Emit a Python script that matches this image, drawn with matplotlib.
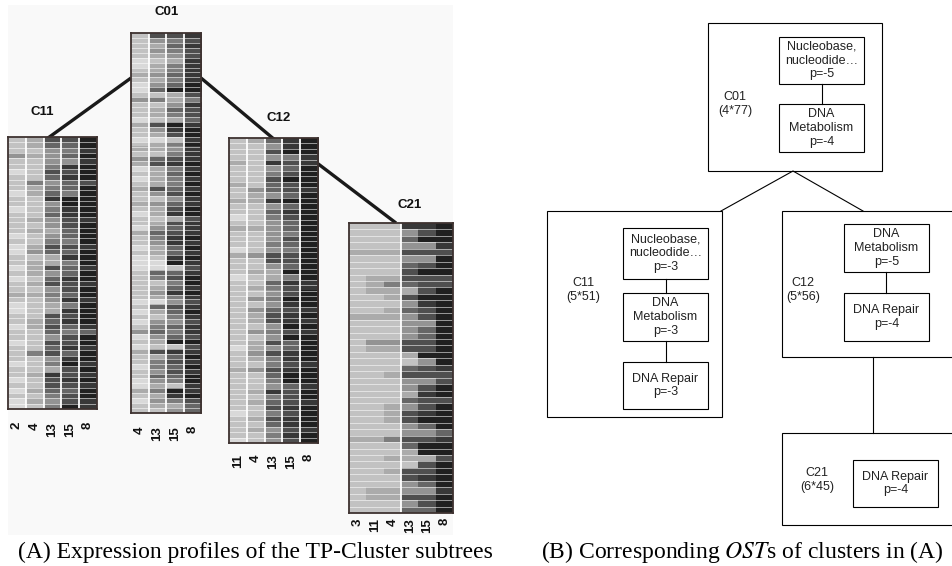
import numpy as np
import matplotlib
matplotlib.use("Agg")
import matplotlib.pyplot as plt
from matplotlib.patches import Rectangle

plt.rcParams['font.family'] = ['Liberation Sans', 'DejaVu Sans']
plt.rcParams['mathtext.fontset'] = 'stix'

# gray level of each cell, 1 = darkest, 9 = lightest (one string per gene)
c01_rows = ["8332", "8653", "8742", "8653", "8763", "9872", "9752", "8752", "7642", "8752",
            "9641", "9411", "8873", "6575", "8862", "8743", "8753", "9874", "7312", "8621",
            "8731", "9982", "8751", "7762", "8852", "6432", "7321", "9752", "8741", "9752",
            "8751", "7342", "8631", "8862", "7642", "8731", "9721", "8873", "8732", "9642",
            "7432", "8521", "8622", "9741", "8742", "9821", "9912", "9983", "8442", "8531",
            "8851", "8742", "8621", "8752", "9963", "8432", "9741", "8852", "9663", "8542",
            "6452", "9643", "8711", "9883", "7322", "8741", "8532", "9541", "8632", "8441",
            "9651", "9782", "7512", "8721", "9653", "8774", "8864"]
c11_rows = ["87331", "87441", "88652", "67641", "88662", "88521", "98331", "88421", "85643", "87541",
            "97451", "88211", "88611", "98521", "88421", "87632", "88631", "87741", "98641", "88551",
            "97332", "96441", "88721", "87751", "97342", "87641", "98421", "87332", "88631", "77541",
            "88622", "98751", "98721", "88331", "87421", "97342", "88454", "88631", "98331", "88422",
            "85341", "88621", "98512", "88731", "87232", "98321", "88332", "97441", "88531", "97632",
            "98512"]
c12_rows = ["87421", "88621", "88311", "88652", "78232", "88641", "88531", "88311", "78431", "86432",
            "87641", "77211", "88641", "88421", "98531", "88641", "77641", "88651", "88631", "88541",
            "98651", "76331", "88331", "88641", "87711", "98751", "88422", "87532", "88631", "86511",
            "88621", "86432", "87321", "87322", "88611", "86532", "88611", "87341", "97641", "86321",
            "87521", "88532", "76321", "88411", "88511", "88642", "87231", "88531", "87432", "88321",
            "98531", "87321", "88421", "87632", "88521", "98631"]
c21_rows = ["888221", "888631", "888411", "888662", "777333", "888661", "888431", "888311", "877333", "875433",
            "877731", "887311", "888621", "887431", "777631", "888661", "888641", "888641", "866331", "877331",
            "888711", "888861", "888432", "887333", "888663", "888631", "888721", "888433", "887631", "887321",
            "887311", "888641", "888664", "775332", "888411", "888711", "887773", "888831", "887331", "888321",
            "888641", "877662", "877331", "888631", "888441"]

c01_cols = ["4", "13", "15", "8"]
c11_cols = ["2", "4", "13", "15", "8"]
c12_cols = ["11", "4", "13", "15", "8"]
c21_cols = ["3", "11", "4", "13", "15", "8"]

W, H = 952, 566
fig = plt.figure(figsize=(W / 100, H / 100), dpi=100, facecolor='white')

# overlay axes in pixel coordinates for lines, boxes and text
ax = fig.add_axes([0, 0, 1, 1], zorder=0)
ax.set_xlim(0, W)
ax.set_ylim(H, 0)
ax.axis('off')
ax.add_patch(Rectangle((8, 5), 445, 530, fc='#f9f9f9', ec='none'))

def heatmap(rows, cols, box, name, namePt, labelGap, seps):
    x0, y0, x1, y1 = box
    hax = fig.add_axes([x0 / W, 1 - y1 / H, (x1 - x0) / W, (y1 - y0) / H], zorder=2)
    vals = np.array([[int(c) for c in r] for r in rows])
    hax.imshow(vals, cmap='gray', vmin=-0.44, vmax=10.67, aspect='auto',
               interpolation='nearest')
    nr, nc = vals.shape
    for i in range(nr - 1):
        hax.axhline(i + 0.5, color='white', lw=0.45, alpha=0.85)
    for j in seps:
        hax.axvline(j + 0.5, color='white', lw=1.3)
    hax.set_xticks([])
    hax.set_yticks([])
    for s in hax.spines.values():
        s.set_color('#3e3230')
        s.set_linewidth(1.3)
    ax.text(namePt[0], namePt[1], name, fontsize=9.5, fontweight='bold',
            ha='center', va='center', color='#111111')
    cw = (x1 - x0) / nc
    for j, lab in enumerate(cols):
        ax.text(x0 + cw * (j + 0.5), y1 + labelGap, lab, rotation=90, fontsize=9.5,
                fontweight='bold', ha='center', va='top', color='#111111')

heatmap(c11_rows, c11_cols, (8, 137, 97, 409), "C11", (42, 112), 13, [0, 1, 2, 3])
heatmap(c01_rows, c01_cols, (131, 33, 201, 413), "C01", (167, 12), 13, [0, 1, 2])
heatmap(c12_rows, c12_cols, (229, 138, 318, 443), "C12", (279, 118), 11, [0, 1, 2, 3])
heatmap(c21_rows, c21_cols, (349, 223, 453, 513), "C21", (410, 205), 5, [2])

# tree edges between the heatmaps
for (xa, ya), (xb, yb) in [((131, 78), (48, 138)), ((201, 78), (275, 140)),
                           ((317, 163), (396, 223))]:
    ax.plot([xa, xb], [ya, yb], color='#1a1a1a', lw=2.4, solid_capstyle='butt', zorder=1)

# right panel: OST boxes
def box(x0, y0, x1, y1, txt=None):
    ax.add_patch(Rectangle((x0, y0), x1 - x0, y1 - y0, fc='white', ec='black', lw=0.8))
    if txt:
        ax.text((x0 + x1) / 2, (y0 + y1) / 2, txt, ha='center', va='center',
                fontsize=9, linespacing=1.2, color='#222222')

def line(pts):
    xs, ys = zip(*pts)
    ax.plot(xs, ys, color='black', lw=0.8)

def label(x, y, txt):
    ax.text(x, y, txt, ha='center', va='center', fontsize=9, linespacing=1.2, color='#222222')

box(708, 23, 882, 171)
box(779, 37, 864, 84, "Nucleobase,\nnucleodide…\np=-5")
box(779, 104, 864, 152, "DNA\nMetabolism\np=-4")
line([(821.5, 84), (821.5, 104)])
label(735, 104, "C01\n(4*77)")

line([(721, 211), (793, 171), (863, 211)])

box(547, 211, 722, 417)
box(623, 228, 708, 279, "Nucleobase,\nnucleodide…\np=-3")
box(623, 293, 708, 341, "DNA\nMetabolism\np=-3")
box(623, 362, 708, 409, "DNA Repair\np=-3")
line([(665.5, 279), (665.5, 293)])
line([(665.5, 341), (665.5, 362)])
label(583, 290, "C11\n(5*51)")

box(782, 211, 965, 357)
box(844, 224, 929, 272, "DNA\nMetabolism\np=-5")
box(844, 293, 929, 341, "DNA Repair\np=-4")
line([(886, 272), (886, 293)])
label(803, 290, "C12\n(5*56)")

line([(873, 357), (873, 433)])

box(782, 433, 965, 525)
box(853, 460, 938, 507, "DNA Repair\np=-4")
label(817, 480, "C21\n(6*45)")

# captions
ax.text(18, 552, "(A) Expression profiles of the TP-Cluster subtrees", ha='left', va='center',
        fontsize=17, family='Liberation Serif', color='black')
ax.text(541, 552, "(B) Corresponding $OST$s of clusters in (A)", ha='left', va='center',
        fontsize=17, family='Liberation Serif', color='black')

fig.savefig("out.png", dpi=100, facecolor='white')
